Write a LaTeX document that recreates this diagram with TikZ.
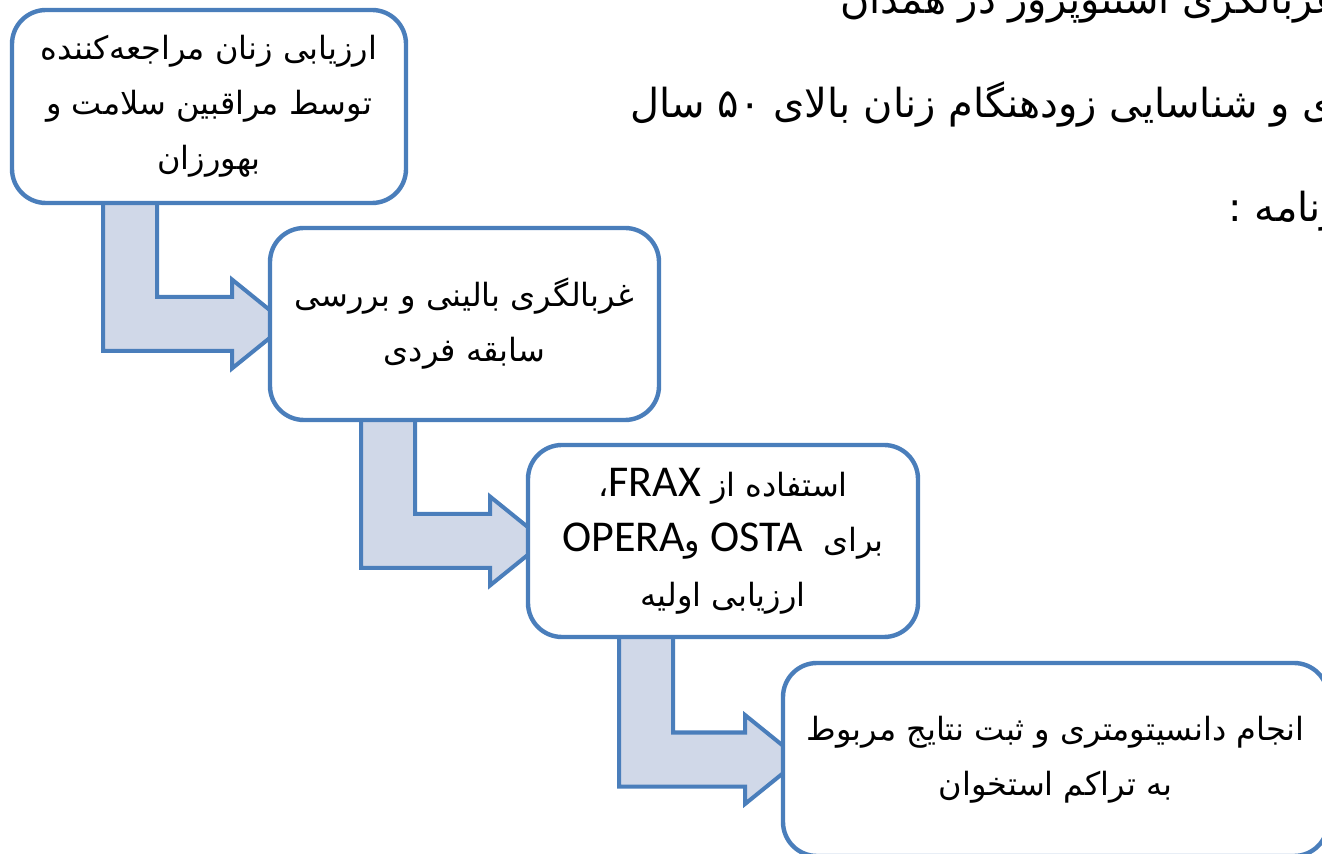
\documentclass[tikz,border=0pt]{standalone}
\usepackage{fontspec}
\usetikzlibrary{calc}
\TeXXeTstate=1
\newfontfamily\fa[Script=Arabic]{DejaVu Sans}
\newfontfamily\lat{Carlito}
\newcommand\latw[1]{\beginL{\lat\fontsize{22}{27.5}\selectfont #1}\endL}
\definecolor{bblue}{RGB}{74,126,187}
\definecolor{afill}{RGB}{208,216,232}
\pgfdeclarelayer{background}
\pgfsetlayers{background,main}
\newcommand\blockarr[2]{%
  \draw[barrow] let \p1=(#1.south west), \p2=(#2.west) in
    (\x1+45.5pt,\y1+4pt) -- (\x1+72.5pt,\y1+4pt) -- (\x1+72.5pt,\y2+13.5pt)
    -- (\x2-19pt,\y2+13.5pt) -- (\x2-19pt,\y2+22.25pt) -- (\x2+8.5pt,\y2)
    -- (\x2-19pt,\y2-22.25pt) -- (\x2-19pt,\y2-13.5pt) -- (\x1+45.5pt,\y2-13.5pt) -- cycle;}
\begin{document}
\begin{tikzpicture}[x=0.5pt,y=-0.5pt,
  box/.style={draw=bblue, line width=2.2pt, fill=white, rounded corners=17pt,
    inner sep=0pt, outer sep=0pt, align=center,
    font=\fa\fontsize{16}{27.5}\selectfont},
  barrow/.style={draw=bblue, line width=2pt, fill=afill, line join=miter},
  toptext/.style={inner sep=0pt, font=\fa\fontsize{20}{30}\selectfont}]
\useasboundingbox (0,0) rectangle (1322,854);
\clip (0,0) rectangle (1322,854);

% cropped heading lines
\node[toptext, anchor=base west] (t1) at (840,14) {\beginR غربالگری استئوپروز در همدان\endR};
\node[toptext, anchor=base west] (t2) at (630,118) {\beginR ی و شناسایی زودهنگام زنان بالای ۵۰ سال\endR};
\node[toptext, anchor=base west] (t3) at (1228,222) {\beginR برنامه :\endR};

% boxes
\node[box, minimum width=197pt, minimum height=96.5pt] (b1) at (209,106.5)
  {\beginR ارزیابی زنان مراجعه‌کننده\endR\\ \beginR توسط مراقبین سلامت و\endR\\ \beginR بهورزان\endR};
\node[box, minimum width=194.5pt, minimum height=96pt] (b2) at (464.5,324)
  {\beginR غربالگری بالینی و بررسی\endR\\ \beginR سابقه فردی\endR};
\node[box, minimum width=195pt, minimum height=96pt] (b3) at (723,541)
  {\beginR استفاده از \latw{FRAX}،\endR\\
   \beginR برای~~\latw{OSTA}{} و\latw{OPERA}\endR\\
   \beginR ارزیابی اولیه\endR};
\node[box, minimum width=272.5pt, minimum height=96.5pt] (b4) at (1055.5,759.5)
  {\beginR انجام دانسیتومتری و ثبت نتایج مربوط\endR\\ \beginR به تراکم استخوان\endR};

\begin{pgfonlayer}{background}
\blockarr{b1}{b2}
\blockarr{b2}{b3}
\blockarr{b3}{b4}
\end{pgfonlayer}
\end{tikzpicture}
\end{document}
